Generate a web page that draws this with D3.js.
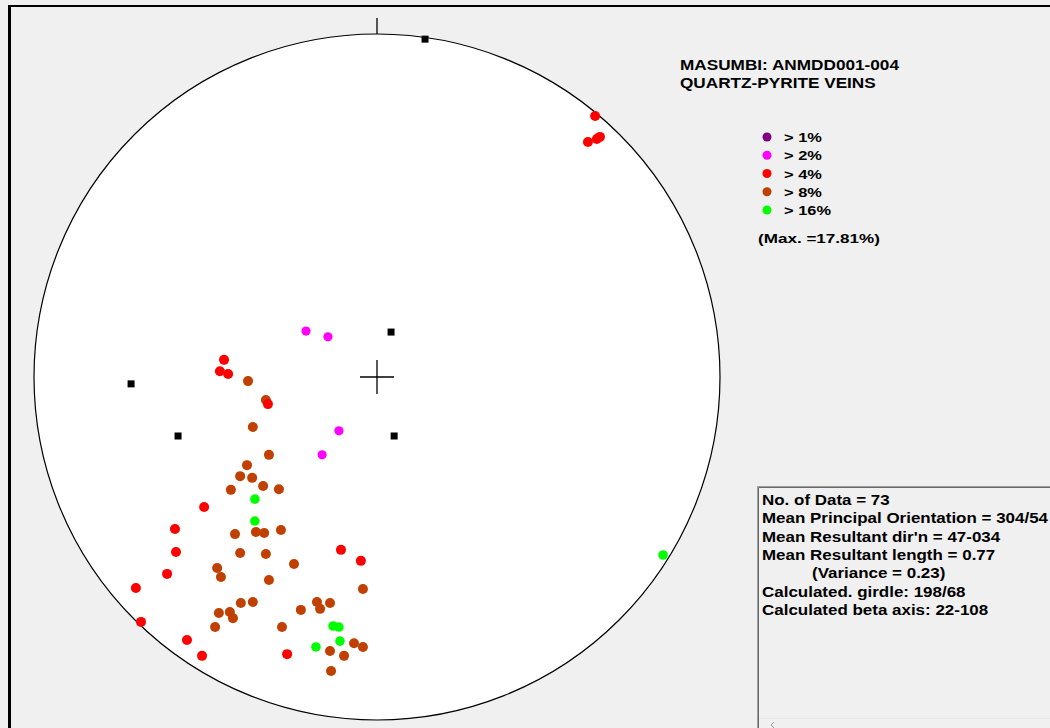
<!DOCTYPE html>
<html>
<head>
<meta charset="utf-8">
<script src="https://cdn.jsdelivr.net/npm/d3@7"></script>
<style>
  html, body { margin: 0; padding: 0; background: #f0f0f0; }
  svg { display: block; }
  text { font-family: "Liberation Sans", Arial, sans-serif; font-weight: bold; fill: #000; }
</style>
</head>
<body>
<svg id="chart" width="1050" height="728"></svg>
<script>
// Equal-area net coordinates (east, north), unit radius = primitive circle
const legendLabels = ["> 1%", "> 2%", "> 4%", "> 8%", "> 16%"];
const legendColors = ["#800080", "#ff00ff", "#ff0000", "#c04000", "#00ff00"];

const titleLines = ["MASUMBI: ANMDD001-004", "QUARTZ-PYRITE VEINS"];
const maxLabel = "(Max. =17.81%)";

const statsLines = [
  "No. of Data = 73",
  "Mean Principal Orientation = 304/54",
  "Mean Resultant dir'n = 47-034",
  "Mean Resultant length = 0.77",
  "(Variance = 0.23)",
  "Calculated. girdle: 198/68",
  "Calculated beta axis: 22-108"
];

// density class > 2%
const pointsGt2 = [
  [-0.207, 0.134], [-0.143, 0.117], [-0.111, -0.157], [-0.160, -0.227]
];
// density class > 4%
const pointsGt4 = [
  [0.636, 0.761], [0.650, 0.700], [0.641, 0.694], [0.615, 0.685],
  [-0.446, 0.050], [-0.458, 0.017], [-0.434, 0.009], [-0.318, -0.079],
  [-0.504, -0.379], [-0.589, -0.443], [-0.586, -0.510], [-0.105, -0.504],
  [-0.047, -0.536], [-0.612, -0.574], [-0.703, -0.615], [-0.688, -0.714],
  [-0.554, -0.767], [-0.510, -0.813], [-0.262, -0.808]
];
// density class > 8%
const pointsGt8 = [
  [-0.376, -0.012], [-0.324, -0.067], [-0.362, -0.146], [-0.315, -0.227],
  [-0.379, -0.257], [-0.399, -0.289], [-0.364, -0.294], [-0.332, -0.318],
  [-0.426, -0.329], [-0.286, -0.327], [-0.414, -0.458], [-0.353, -0.452],
  [-0.329, -0.455], [-0.280, -0.446], [-0.399, -0.513], [-0.324, -0.516],
  [-0.242, -0.545], [-0.466, -0.557], [-0.455, -0.583], [-0.315, -0.592],
  [-0.041, -0.618], [-0.397, -0.659], [-0.362, -0.656], [-0.461, -0.688],
  [-0.429, -0.685], [-0.420, -0.703], [-0.222, -0.679], [-0.175, -0.656],
  [-0.166, -0.676], [-0.137, -0.659], [-0.472, -0.729], [-0.277, -0.729],
  [-0.067, -0.776], [-0.041, -0.787], [-0.137, -0.799], [-0.096, -0.813],
  [-0.134, -0.857]
];
// density class > 16%
const pointsGt16 = [
  [-0.356, -0.356], [-0.356, -0.420], [-0.128, -0.726], [-0.111, -0.729],
  [-0.108, -0.770], [-0.178, -0.787], [0.834, -0.519]
];
// principal axes / reference poles
const poles = [
  [0.140, 0.985], [0.041, 0.131], [-0.717, -0.020], [-0.580, -0.172], [0.050, -0.172]
];

const svg = d3.select("#chart");

// stretch a group of text lines horizontally so that one reference line spans the given width
function fitWidth(sel, refIndex, width) {
  const nodes = sel.nodes();
  const k = width / nodes[refIndex].getComputedTextLength();
  nodes.forEach(n => {
    const w = n.getComputedTextLength() * k;
    d3.select(n).attr("textLength", w).attr("lengthAdjust", "spacingAndGlyphs");
  });
}

// outer window frame
svg.append("rect").attr("x", 0).attr("y", 0).attr("width", 1050).attr("height", 728).attr("fill", "#f0f0f0");
svg.append("line").attr("x1", 8).attr("x2", 1050).attr("y1", 6).attr("y2", 6)
  .attr("stroke", "#000").attr("stroke-width", 2);
svg.append("line").attr("x1", 9.5).attr("x2", 9.5).attr("y1", 5).attr("y2", 728)
  .attr("stroke", "#000").attr("stroke-width", 3);

// stereonet scales
const cx = 377, cy = 377, R = 343;
const xs = d3.scaleLinear().domain([-1, 1]).range([cx - R, cx + R]);
const ys = d3.scaleLinear().domain([-1, 1]).range([cy + R, cy - R]);

const net = svg.append("g");
net.append("circle").attr("cx", xs(0)).attr("cy", ys(0)).attr("r", xs(1) - xs(0))
  .attr("fill", "#fff").attr("stroke", "#000").attr("stroke-width", 1.2);
// north tick
net.append("line").attr("x1", xs(0)).attr("x2", xs(0)).attr("y1", ys(1) - 16).attr("y2", ys(1))
  .attr("stroke", "#000").attr("stroke-width", 1.3);
// centre cross
net.append("line").attr("x1", xs(0) - 17).attr("x2", xs(0) + 17).attr("y1", ys(0)).attr("y2", ys(0))
  .attr("stroke", "#000").attr("stroke-width", 1.3);
net.append("line").attr("x1", xs(0)).attr("x2", xs(0)).attr("y1", ys(0) - 17).attr("y2", ys(0) + 17)
  .attr("stroke", "#000").attr("stroke-width", 1.3);

const classes = [
  { pts: pointsGt2, color: legendColors[1], r: 4.6 },
  { pts: pointsGt8, color: legendColors[3], r: 5 },
  { pts: pointsGt4, color: legendColors[2], r: 5 },
  { pts: pointsGt16, color: legendColors[4], r: 4.8 }
];
classes.forEach(c => {
  net.append("g").selectAll("circle").data(c.pts).join("circle")
    .attr("cx", d => xs(d[0])).attr("cy", d => ys(d[1])).attr("r", c.r)
    .attr("fill", c.color);
});

const sq = d3.symbol().type(d3.symbolSquare).size(49);
net.append("g").selectAll("path").data(poles).join("path")
  .attr("d", sq)
  .attr("transform", d => `translate(${xs(d[0])},${ys(d[1])})`)
  .attr("fill", "#000");

// title
const title = svg.append("g").selectAll("text").data(titleLines).join("text")
  .attr("x", 680).attr("y", (d, i) => 70 + i * 18)
  .style("font-size", "14px")
  .text(d => d);
fitWidth(title, 0, 219);

// legend
const lg = svg.append("g");
const ly = d3.scalePoint().domain(legendLabels).range([137, 210]);
lg.selectAll("circle").data(legendLabels).join("circle")
  .attr("cx", 767).attr("cy", d => ly(d)).attr("r", 4.5)
  .attr("fill", (d, i) => legendColors[i]);
const lgText = lg.selectAll("text").data(legendLabels).join("text")
  .attr("x", 784).attr("y", d => ly(d) + 5)
  .style("font-size", "13.5px")
  .text(d => d);
fitWidth(lgText, 4, 47);
const maxText = svg.append("text").attr("x", 758).attr("y", 243).style("font-size", "13.5px").text(maxLabel);
fitWidth(maxText, 0, 122);

// statistics panel
const panel = svg.append("g");
panel.append("rect").attr("x", 757).attr("y", 486).attr("width", 300).attr("height", 250)
  .attr("fill", "#f0f0f0");
panel.append("path").attr("d", "M757.5,728V486.5H1050").attr("fill", "none").attr("stroke", "#a0a0a0");
panel.append("path").attr("d", "M758.5,728V487.5H1050").attr("fill", "none").attr("stroke", "#696969");
panel.append("line").attr("x1", 759).attr("x2", 1050).attr("y1", 718.5).attr("y2", 718.5)
  .attr("stroke", "#e6e6e6");
panel.append("path").attr("d", "M774,722l-3,3l3,3").attr("fill", "none").attr("stroke", "#9a9a9a");

const statText = panel.selectAll("text").data(statsLines).join("text")
  .attr("x", (d, i) => i === 4 ? 812 : 762).attr("y", (d, i) => 505 + i * 18.3)
  .style("font-size", "14.5px")
  .text(d => d);
fitWidth(statText, 1, 286);
</script>
</body>
</html>
